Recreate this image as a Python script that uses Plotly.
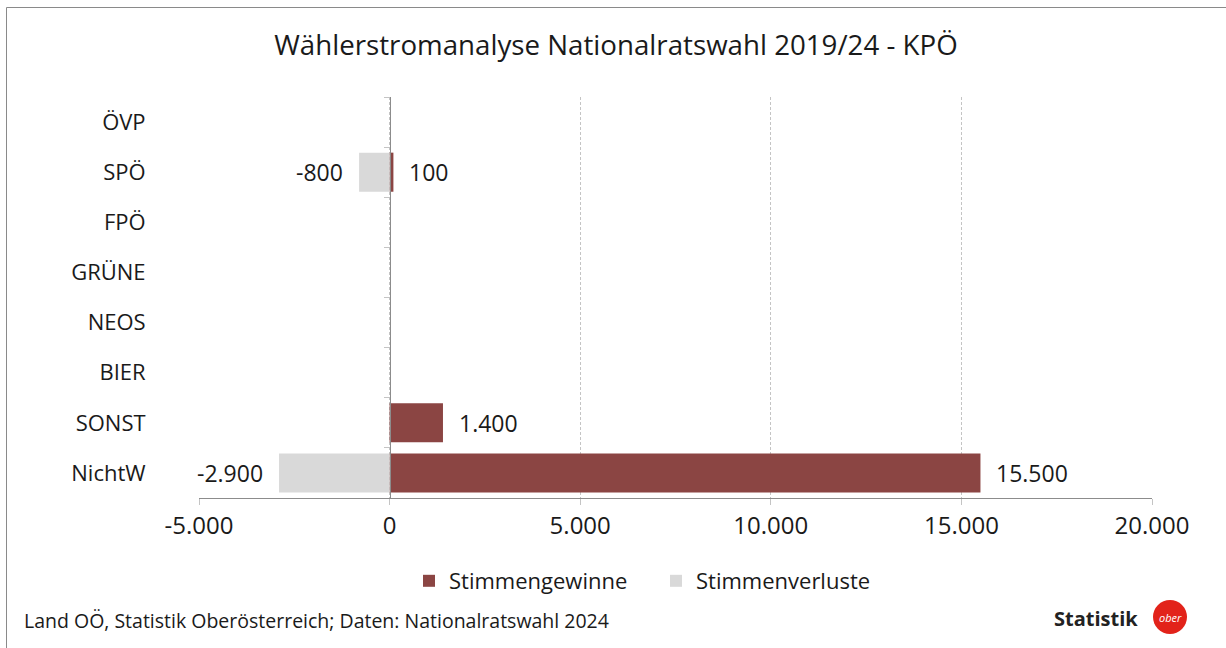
import plotly.graph_objects as go

categories = ["ÖVP", "SPÖ", "FPÖ", "GRÜNE", "NEOS", "BIER", "SONST", "NichtW"]
gains = [None, 100, None, None, None, None, 1400, 15500]
losses = [None, -800, None, None, None, None, None, -2900]
x_ticks = [-5000, 0, 5000, 10000, 15000, 20000]
x_min, x_max = -5000, 20000

title_text = "Wählerstromanalyse Nationalratswahl 2019/24 - KPÖ"
source_text = "Land OÖ, Statistik Oberösterreich; Daten: Nationalratswahl 2024"

GAIN_COLOR = "#8B4543"
LOSS_COLOR = "#D9D9D9"
TXT = "#1a1a1a"
FONT = "Open Sans"

W, H = 1226, 648
ML, MR, MT, MB = 199, W - 1152, 97, H - 498
PW, PH = W - ML - MR, H - MT - MB


def fmt(v):
    return f"{v:,.0f}".replace(",", ".")


def px_x(px):
    return (px - ML) / PW


def px_y(py):
    return (H - MB - py) / PH


fig = go.Figure()
fig.add_trace(go.Bar(x=gains, y=categories, orientation="h", name="Stimmengewinne",
                     marker=dict(color=GAIN_COLOR, line=dict(width=0))))
fig.add_trace(go.Bar(x=losses, y=categories, orientation="h", name="Stimmenverluste",
                     marker=dict(color=LOSS_COLOR, line=dict(width=0))))
# invisible helper trace for the zero axis with boundary ticks
fig.add_trace(go.Scatter(x=[0] * len(categories), y=categories, yaxis="y2", mode="markers",
                         marker=dict(opacity=0), showlegend=False, hoverinfo="skip"))

LBL = 23
annotations = []
for c, v in zip(categories, gains):
    if v is not None:
        annotations.append(dict(x=v, y=c, xref="x", yref="y", text=fmt(v), showarrow=False,
                                xanchor="left", xshift=14, font=dict(size=LBL, color=TXT, family=FONT)))
for c, v in zip(categories, losses):
    if v is not None:
        annotations.append(dict(x=v, y=c, xref="x", yref="y", text=fmt(v), showarrow=False,
                                xanchor="right", xshift=-14, font=dict(size=LBL, color=TXT, family=FONT)))

annotations.append(dict(x=px_x(22), y=px_y(620), xref="paper", yref="paper", text=source_text,
                        showarrow=False, xanchor="left", yanchor="middle",
                        font=dict(size=19.5, color=TXT, family=FONT)))
annotations.append(dict(x=px_x(1140), y=px_y(618), xref="paper", yref="paper", text="<b>Statistik</b>",
                        showarrow=False, xanchor="right", yanchor="middle",
                        font=dict(size=20, color="#222222", family=FONT)))
annotations.append(dict(x=px_x(1170), y=px_y(617), xref="paper", yref="paper", text="<i>ober</i>",
                        showarrow=False, xanchor="center", yanchor="middle",
                        font=dict(size=11, color="white", family=FONT)))

shapes = [
    dict(type="rect", xref="paper", yref="paper", x0=px_x(6.5), x1=px_x(W + 5), y0=px_y(H + 5), y1=px_y(7.5),
         line=dict(color="#8a8a8a", width=1), fillcolor="rgba(0,0,0,0)", layer="below"),
    dict(type="circle", xref="paper", yref="paper", x0=px_x(1153), x1=px_x(1187), y0=px_y(634), y1=px_y(600),
         line=dict(width=0), fillcolor="#E2231A"),
]

y_range = [len(categories) - 0.5, -0.5]

fig.update_layout(
    width=W, height=H,
    margin=dict(l=ML, r=MR, t=MT, b=MB),
    paper_bgcolor="white", plot_bgcolor="white",
    separators=",.",
    barmode="relative", bargap=0.22,
    font=dict(family=FONT, color=TXT),
    title=dict(text=title_text, x=616 / W, xanchor="center", y=1 - 45 / H, yanchor="middle",
               font=dict(size=27.7, color=TXT, family=FONT)),
    xaxis=dict(range=[x_min, x_max], tickvals=x_ticks, ticktext=[fmt(v) for v in x_ticks],
               showgrid=True, gridcolor="#c4c4c4", griddash="3px,2px", gridwidth=1,
               zeroline=False, showline=True, linecolor="#8c8c8c", linewidth=1,
               ticks="outside", ticklen=6, tickcolor="#c4c4c4",
               tickfont=dict(size=24, color=TXT, family=FONT)),
    yaxis=dict(type="category", categoryorder="array", categoryarray=categories, range=y_range,
               showgrid=False, zeroline=False, showline=False,
               ticks="outside", ticklen=48, tickcolor="rgba(0,0,0,0)",
               tickfont=dict(size=22, color=TXT, family=FONT)),
    yaxis2=dict(type="category", categoryorder="array", categoryarray=categories, range=y_range,
                overlaying="y", anchor="free", position=(0 - x_min) / (x_max - x_min), side="left",
                showgrid=False, zeroline=False, showline=True, linecolor="#8c8c8c", linewidth=1,
                ticks="outside", tickson="boundaries", ticklen=6, tickcolor="#c4c4c4",
                showticklabels=False),
    legend=dict(orientation="h", x=px_x(409), xanchor="left", y=px_y(581), yanchor="middle",
                font=dict(size=22, color=TXT, family=FONT), traceorder="normal", itemwidth=30,
                entrywidth=202, entrywidthmode="pixels"),
    annotations=annotations,
    shapes=shapes,
)

fig.write_html("out.html", config={"displayModeBar": False},
               post_script="document.body.style.margin='0px';")
